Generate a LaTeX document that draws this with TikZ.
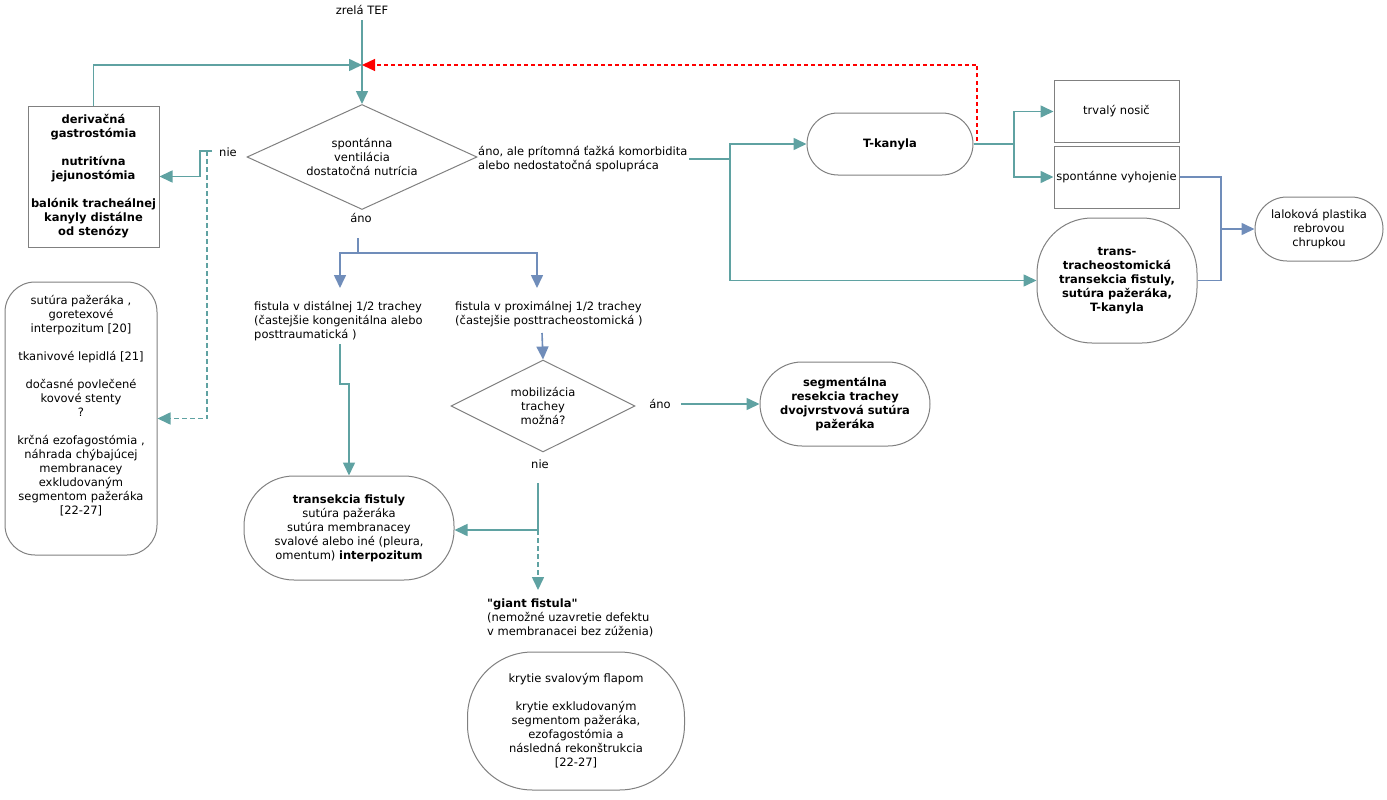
\documentclass[tikz,border=0pt]{standalone}
\usepackage{fontspec}
\setmainfont{DejaVu Sans}
\newfontfamily\qfont{DejaVu Sans}
\usetikzlibrary{arrows.meta,shapes.geometric,calc}
\definecolor{tealc}{RGB}{95,162,162}
\definecolor{bluec}{RGB}{112,141,186}
\definecolor{grayc}{RGB}{128,128,128}
\begin{document}
\begin{tikzpicture}[x=1pt,y=-1pt,font=\fontsize{11.5}{14}\selectfont,
  tl/.style={draw=tealc,line width=1.6pt},
  tla/.style={tl,-{Triangle[length=13pt,width=12pt]}},
  tld/.style={tla,dash pattern=on 5pt off 3pt},
  bl/.style={draw=bluec,line width=1.6pt},
  bla/.style={bl,-{Triangle[length=13pt,width=12pt]}},
  rda/.style={draw=red,line width=1.3pt,dash pattern=on 4pt off 3pt,-{Triangle[length=13pt,width=12pt,fill=red]}},
  box/.style={draw=grayc,line width=1pt,align=center,inner sep=2pt,fill=white},
  bbox/.style={box,font=\fontsize{11.5}{14}\selectfont\bfseries},
  lbl/.style={inner sep=0pt,align=center},
  lbll/.style={inner sep=0pt,align=left,anchor=north west}]
\useasboundingbox (0,0) rectangle (1387,800);

% nodes
\node[lbl] (tef) at (362,10) {zrelá TEF};
\node[box,diamond,aspect=2.2,minimum width=230,minimum height=105,inner sep=0pt] (d1) at (362,157) {spontánna\\ventilácia\\dostatočná nutrícia};
\node[lbl] (nie1) at (228,152) {nie};
\node[bbox,minimum width=131,minimum height=141] (der) at (93.5,176.5) {derivačná\\gastrostómia\\[14pt]nutritívna\\jejunostómia\\[14pt]balónik tracheálnej\\kanyly distálne\\od stenózy};
\node[box,rounded corners=30,minimum width=152,minimum height=273] (sut) at (81,418.5) {sutúra pažeráka ,\\goretexové\\interpozitum [20]\\[14pt]tkanivové lepidlá [21]\\[14pt]dočasné povlečené\\kovové stenty\\?\\[14pt]krčná ezofagostómia ,\\náhrada chýbajúcej\\membranacey\\exkludovaným\\segmentom pažeráka\\{}[22-27]\\[14pt]\mbox{}};
\node[lbl] (ano1) at (361,218) {áno};
\node[lbll] (fd) at (254,301) {fistula v distálnej 1/2 trachey\\(častejšie kongenitálna alebo\\posttraumatická )};
\node[lbll] (fp) at (455,301) {fistula v proximálnej 1/2 trachey\\(častejšie posttracheostomická )};
\node[box,diamond,aspect=2,minimum width=184,minimum height=92,inner sep=0pt] (d2) at (543,406) {mobilizácia\\trachey\\možná?};
\node[lbl] (ano2) at (660,404) {áno};
\node[bbox,rounded corners=42,minimum width=170,minimum height=84] (seg) at (845,404) {segmentálna\\resekcia trachey\\dvojvrstvová sutúra\\pažeráka};
\node[lbl] (nie2) at (540,464) {nie};
\node[box,rounded corners=50,minimum width=210,minimum height=104] (tr) at (349,528) {\textbf{transekcia fistuly}\\sutúra pažeráka\\sutúra membranacey\\svalové alebo iné (pleura,\\omentum) \textbf{interpozitum}};
\node[lbll] (gf) at (487,599) {{\qfont\bfseries "giant fistula"}\\(nemožné uzavretie defektu\\v membranacei bez zúženia)};
\node[box,rounded corners=65,minimum width=217,minimum height=138] (kr) at (576,721) {krytie svalovým flapom\\[14pt]krytie exkludovaným\\segmentom pažeráka,\\ezofagostómia a\\následná rekonštrukcia\\{}[22-27]};
\node[lbll] (al) at (478,146) {áno, ale prítomná ťažká komorbidita\\alebo nedostatočná spolupráca};
\node[bbox,rounded corners=31,minimum width=166,minimum height=62] (tk) at (890,144) {T-kanyla};
\node[box,minimum width=125,minimum height=61] (tn) at (1116.5,111.5) {trvalý nosič};
\node[box,minimum width=125,minimum height=62,inner sep=1pt] (sv) at (1116.5,177) {spontánne vyhojenie};
\node[bbox,rounded corners=55,minimum width=160,minimum height=125] (tt) at (1117,280.5) {trans-\\tracheostomická\\transekcia fistuly,\\sutúra pažeráka,\\T-kanyla};
\node[box,rounded corners=32,minimum width=128,minimum height=64] (lal) at (1319,229) {laloková plastika\\rebrovou\\chrupkou};

% coordinates
\coordinate (j1) at (362,65);
\coordinate (rc) at (977,65);
\coordinate (nb) at (212,151);
\coordinate (nd) at (207,151);
\coordinate (b1) at (358,238);
\coordinate (bj) at (358,253);
\coordinate (fdin) at (340,288);
\coordinate (fpin) at (537,288);
\coordinate (fdout) at (340,344);
\coordinate (fpout) at (542,333);
\coordinate (n2out) at (538,483);
\coordinate (n2j) at (538,530);
\coordinate (gfin) at (538,590);
\coordinate (alo) at (689,159);
\coordinate (vj) at (730,159);
\coordinate (tkj) at (1014,144);
\coordinate (bj2) at (1221,229);

% connectors
\draw[tla] (tef.south) ++(0,5) -- (d1.north);
\draw[tla] (der.north) |- (j1);
\draw[rda] (tk.east) -| (rc) -- (j1);
\draw[tla] (nb) -- ++(-12,0) |- (der.east);
\draw[tld] (nd) |- (sut.east);
\draw[bl] (b1) -- (bj);
\draw[bla] (bj) -| (fdin);
\draw[bla] (bj) -| (fpin);
\draw[tla] (fdout) -- ++(0,40) -| (tr.north);
\draw[bla] (fpout) -- (d2.north);
\draw[tla] (ano2.east) ++(10,0) -- (seg.west);
\draw[tl] (n2out) -- (n2j);
\draw[tla] (n2j) -- (n2j -| tr.east);
\draw[tld] (n2j) -- (gfin);
\draw[tl] (alo) -- (vj);
\draw[tla] (vj) |- (tk.west);
\draw[tla] (vj) |- (tt.west);
\draw[tl] (tk.east) -- (tkj);
\draw[tla] (tkj) |- (tn.west);
\draw[tla] (tkj) |- (sv.west);
\draw[bl] (sv.east) -| (bj2);
\draw[bl] (tt.east) -| (bj2);
\draw[bla] (bj2) -- (lal.west);
\end{tikzpicture}
\end{document}
